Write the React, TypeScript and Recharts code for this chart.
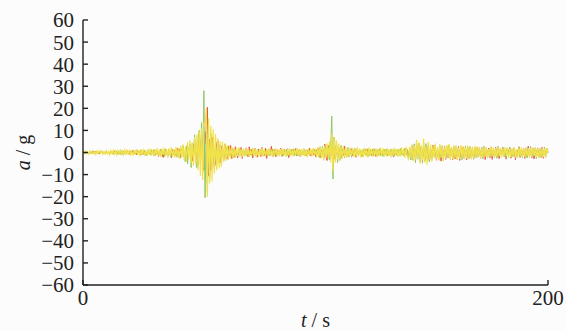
import { LineChart, Line, XAxis, YAxis, Label } from "recharts";

// sampled every 0.5 s, t = 0..200 (20 samples per row = 10 s)
const redSeries = [
  0.2, -0.4, 0.5, -0.1, 0.3, -0.5, 0.1, 0.4, -0.3, 0.6, -0.2, -0.5, 0.4, 0.1, -0.6, 0.3, 0.5, -0.4, 0.2, -0.3,
  0.6, -0.5, 0.2, -0.7, 0.4, 0.1, -0.5, 0.8, -0.3, 0.5, -0.8, 0.2, 0.6, -0.4, -0.7, 0.5, 0.3, -0.6, 0.9, -0.2,
  -0.8, 0.6, -0.3, 1.0, -0.7, 0.2, -1.1, 0.8, 0.4, -0.9, 1.2, -0.5, -0.8, 1.0, 0.3, -1.3, 0.7, -0.4, 1.1, -0.9,
  0.5, -1.4, 1.2, -0.6, 0.9, -1.8, 0.4, 1.3, -1.0, -2.2, 0.8, 1.5, -0.7, -1.6, 1.1, 0.6, -2.4, 1.4, -0.9, 1.0,
  -1.5, 2.0, -0.8, 1.6, -2.3, 0.9, 2.5, -1.9, -1.2, 3.0, -2.7, 1.4, 3.6, -2.2, -3.8, 2.8, 4.5, -3.6, 1.8, -5.8,
  5.5, -2.5, 7.8, -6.5, -8.0, 9.5, 4.0, 20.5, -10.5, 6.0, -8.0, 7.0, 3.5, -6.5, -5.0, 4.2, 5.5, -3.8, -4.6, 3.0,
  2.4, -3.6, 3.8, -1.9, -3.0, 2.9, -1.2, 3.2, -2.8, 1.5, -2.2, 2.6, 0.8, -2.5, 1.8, -1.0, 2.3, -2.7, 1.2, -1.6,
  2.1, -0.7, -1.9, 2.6, -1.1, 1.4, -2.5, 0.9, 1.8, -1.4, -2.1, 1.6, 0.6, -1.8, 2.3, -0.8, -1.3, 1.9, -2.7, 0.7,
  1.2, -1.6, 2.8, -0.5, -1.2, 1.4, -1.9, 0.6, 1.1, -1.4, 2.0, -0.8, -1.6, 1.3, 0.4, -1.1, 1.7, -2.3, 0.9, -0.6,
  1.5, -1.2, -0.9, 1.8, -1.6, 0.7, 1.3, -2.0, 0.5, -1.0, 1.6, -0.4, -1.4, 1.0, -0.7, 1.9, -1.6, 0.6, -1.1, 1.3,
  -1.8, 1.2, -0.6, 2.1, -2.4, 1.0, 1.5, -2.9, 3.8, -1.6, -3.6, 3.2, 1.8, -2.5, 3.1, -1.4, -3.0, 2.6, 1.1, -1.7,
  2.2, -0.8, -2.4, 1.4, -1.3, 2.9, -0.6, -1.6, 1.2, -2.0, 0.5, 1.7, -1.4, 1.0, -0.6, -2.2, 1.8, -0.9, 1.1, -1.5,
  0.6, -1.9, 1.5, -0.8, -1.1, 1.6, -0.6, 0.9, -1.4, 1.1, -0.7, 1.6, -1.8, 0.5, -1.2, 1.4, -0.9, 0.7, -1.5, 1.2,
  -0.8, 1.4, -1.6, 0.6, 1.0, -1.3, 0.5, -1.9, 1.7, -0.7, 1.1, -1.2, 0.8, -1.6, 1.3, -0.5, -1.4, 1.9, -1.0, 0.6,
  -2.6, 1.9, -1.2, 3.0, -3.4, 1.5, -2.2, 3.6, -1.4, 2.4, -4.1, 2.0, -1.6, 3.2, -3.8, 1.2, -2.5, 2.8, -4.0, 1.7,
  -2.0, 3.3, -1.3, 2.6, -3.5, 1.1, -2.7, 2.2, -3.9, 1.4, -1.8, 2.9, -3.1, 0.9, -2.3, 3.0, -1.5, 2.4, -3.3, 1.6,
  -2.9, 1.3, -2.1, 2.7, -3.6, 1.0, -1.9, 2.5, -2.8, 1.5, -3.4, 2.0, -1.2, 2.6, -2.5, 1.1, -3.0, 2.1, -1.7, 2.4,
  -1.4, 2.2, -2.6, 0.9, -1.8, 2.7, -3.2, 1.2, -1.0, 2.0, -2.4, 1.5, -3.1, 0.8, -1.6, 2.3, -2.1, 1.1, -2.8, 1.7,
  -1.3, 2.5, -2.0, 0.7, -3.0, 1.9, -1.1, 2.4, -2.6, 1.0, -1.7, 2.2, -3.3, 1.4, -0.9, 2.6, -2.2, 1.2, -1.5, 2.0,
  -2.7, 1.1, -1.9, 2.8, -1.2, 0.6, -2.4, 1.8, -2.9, 1.3, -1.0, 2.1, -2.3, 0.9, -1.8, 2.5, -2.6, 1.4, -1.2, 1.9,
  0.4,
];

const greenSeries = [
  -0.2, 0.3, -0.5, 0.1, 0.4, -0.3, 0.2, -0.6, 0.5, -0.1, -0.4, 0.6, 0.2, -0.5, 0.3, -0.2, 0.7, -0.4, 0.1, -0.6,
  0.5, -0.3, 0.6, -0.7, 0.2, 0.4, -0.8, 0.5, -0.2, 0.7, -0.6, 0.3, -0.9, 0.8, 0.1, -0.5, 0.6, -0.8, 0.4, -0.3,
  0.9, -0.6, 0.3, -1.0, 0.8, -0.4, 1.1, -0.9, 0.2, 0.7, -1.2, 0.6, -0.5, 1.0, -1.3, 0.4, 0.9, -0.7, -1.1, 1.2,
  -0.6, 1.3, -1.5, 0.5, 1.0, -1.2, -0.4, 1.6, -1.1, 0.8, -1.8, 1.2, 0.3, -1.4, 1.5, -0.9, -1.9, 1.0, 0.6, -1.3,
  1.7, -2.2, 0.9, -2.8, 2.6, -1.4, 3.2, -1.0, -4.2, 2.8, -5.2, 2.0, 3.5, -6.8, 4.2, -3.0, 8.0, -3.5, -7.0, 6.0,
  10.0, -5.0, 13.5, -9.0, 28.0, -20.5, 12.0, -18.0, 6.5, -11.5, 8.5, -5.0, 6.5, -7.0, 2.5, -5.2, 4.4, -2.2, 3.6, -4.1,
  1.5, -3.2, 2.9, -1.4, 2.5, -2.8, 0.9, -2.2, 2.0, -1.1, 1.8, -2.3, 0.8, -1.7, 1.9, -0.6, 1.2, -1.8, 1.6, -0.9,
  1.1, -1.5, 0.6, -1.9, 1.4, -0.8, 1.7, -1.2, 0.5, -1.6, 1.3, -1.0, 1.6, -0.7, 1.9, -1.4, 0.9, -1.2, 1.5, -0.6,
  -1.3, 1.2, -0.8, 1.6, -1.7, 0.4, 1.1, -1.5, 0.7, -1.0, 1.4, -1.8, 0.5, 1.2, -0.9, 1.5, -1.3, 0.6, -1.1, 1.3,
  -0.7, 1.6, -1.4, 0.8, -1.2, 1.0, -1.6, 0.5, 1.4, -1.1, 0.7, -1.5, 1.2, -0.6, 1.7, -1.3, 0.9, -1.0, 1.5, -0.8,
  1.6, -0.7, 1.9, -1.9, 0.9, -2.4, 2.8, -1.2, -2.0, 3.0, -1.4, 2.2, -3.2, 1.5, 16.5, -12.0, 7.0, -3.0, 5.2, -4.6,
  2.0, -3.4, 3.2, -1.5, 2.6, -2.4, 1.2, -1.9, 2.2, -1.0, 1.6, -2.1, 0.8, -1.4, 1.9, -1.2, 0.7, -1.7, 1.3, -0.9,
  -1.9, 1.4, -0.7, 1.6, -1.3, 0.5, -1.7, 1.3, -0.8, 1.5, -1.6, 0.6, -1.2, 1.4, -0.9, 1.7, -1.4, 0.7, -1.8, 1.5,
  -1.0, 1.3, -1.5, 0.8, -1.2, 1.6, -0.6, 1.1, -1.7, 0.9, -1.3, 1.5, -0.8, 1.8, -1.1, 0.7, -1.6, 1.2, -0.9, 1.4,
  -2.8, 1.5, -3.4, 2.6, -1.8, 3.9, -4.6, 2.2, -3.0, 4.3, -1.9, 3.0, -4.8, 1.7, -3.3, 4.0, -2.4, 2.6, -4.2, 1.9,
  -3.5, 2.2, -1.6, 3.4, -2.8, 1.5, -3.2, 2.9, -1.9, 3.1, -3.6, 1.2, -2.5, 2.7, -1.4, 3.3, -2.9, 1.8, -2.2, 2.8,
  -1.8, 2.9, -3.0, 1.4, -2.3, 2.6, -3.3, 1.6, -2.0, 3.0, -1.5, 2.3, -2.8, 1.9, -1.6, 2.5, -2.7, 1.3, -2.4, 2.0,
  -2.2, 1.5, -1.7, 2.4, -2.9, 1.1, -1.4, 2.2, -2.5, 0.8, -1.9, 2.6, -1.2, 1.7, -2.3, 1.0, -2.6, 2.9, -1.5, 1.3,
  -1.6, 2.3, -2.0, 1.2, -2.7, 1.8, -1.1, 2.5, -2.2, 0.9, -1.8, 2.0, -2.6, 1.4, -1.3, 2.4, -1.9, 1.1, -2.4, 1.6,
  -1.4, 2.1, -2.5, 1.3, -1.7, 2.7, -2.1, 0.8, -1.5, 2.2, -2.8, 1.5, -1.0, 1.9, -2.3, 1.2, -1.6, 2.4, -2.0, 1.4,
  -0.3,
];

const yellowSeries = [
  0.5, -0.4, 0.7, -0.6, 0.3, -0.8, 0.6, -0.2, 0.8, -0.7, 0.4, -0.9, 0.7, -0.5, 0.9, -0.3, 0.6, -0.8, 0.5, -0.6,
  0.8, -0.7, 0.4, -1.0, 0.9, -0.5, 1.0, -0.8, 0.6, -1.1, 0.9, -0.4, 1.1, -0.9, 0.7, -1.0, 1.2, -0.6, 0.8, -1.1,
  1.3, -1.0, 0.6, -1.4, 1.2, -0.8, 1.5, -1.2, 0.9, -1.6, 1.4, -1.1, 1.7, -1.3, 0.8, -1.5, 1.6, -1.0, 1.8, -1.4,
  1.1, -1.8, 1.6, -1.2, 2.0, -1.5, 1.3, -2.1, 1.8, -1.0, 2.2, -1.7, 1.4, -2.3, 1.9, -1.3, 2.4, -2.0, 1.6, -2.2,
  2.6, -1.8, 2.0, -2.9, 3.0, -2.2, 3.6, -3.4, 2.4, -4.2, 4.6, -3.0, 5.5, -4.8, 4.5, -6.0, 7.0, -5.2, 8.2, -8.0,
  9.5, -10.5, 11.0, -12.5, 13.5, 12.0, 20.0, -20.0, 15.5, -14.0, 12.0, -13.0, 10.5, -9.5, 8.5, -8.0, 6.5, -7.2, 5.0, -6.5,
  5.0, -4.2, 4.2, -3.8, 3.4, -3.4, 3.1, -2.6, 2.8, -2.6, 1.9, -2.4, 2.2, -1.5, 2.3, -2.0, 1.7, -2.1, 1.4, -1.8,
  2.0, -1.2, 1.9, -2.0, 1.3, -1.7, 2.1, -1.4, 1.8, -2.2, 1.2, -1.9, 1.6, -1.3, 2.0, -1.8, 1.5, -2.0, 1.7, -1.4,
  1.9, -1.6, 1.3, -2.1, 1.7, -1.2, 2.0, -1.5, 1.4, -1.9, 1.6, -1.1, 1.8, -1.7, 1.2, -2.0, 1.5, -1.3, 1.9, -1.6,
  1.4, -1.8, 1.7, -1.2, 2.0, -1.5, 1.3, -1.9, 1.6, -1.4, 1.9, -1.7, 1.2, -2.0, 1.8, -1.3, 1.5, -1.8, 2.1, -1.5,
  1.7, -2.3, 2.4, -1.8, 3.0, -2.6, 2.2, -3.6, 3.2, -2.4, 4.0, -3.0, 5.0, -4.5, 8.5, -8.5, 7.0, -4.5, 5.5, -3.2,
  4.0, -3.8, 2.5, -3.0, 2.9, -2.0, 2.6, -2.2, 1.6, -2.0, 2.2, -1.4, 2.0, -2.1, 1.5, -1.9, 2.3, -1.6, 1.8, -2.2,
  1.4, -2.0, 2.1, -1.7, 1.9, -2.3, 2.2, -1.5, 1.6, -1.9, 2.0, -1.3, 1.8, -2.1, 1.5, -1.7, 2.2, -1.4, 1.9, -2.0,
  1.6, -1.8, 2.0, -1.5, 1.3, -2.2, 1.8, -1.6, 2.1, -1.3, 1.7, -2.0, 1.5, -1.9, 2.3, -1.4, 1.8, -2.4, 2.6, -2.0,
  -3.0, 2.6, -2.2, 3.8, -4.0, 2.9, -3.2, 5.8, -2.8, 4.5, -5.0, 3.2, -3.6, 6.3, -4.6, 2.8, -5.5, 4.8, -3.1, 3.6,
  -4.2, 3.0, -2.6, 4.1, -3.3, 2.4, -3.6, 3.8, -2.5, 3.2, -3.9, 2.6, -2.8, 3.5, -2.2, 3.9, -3.4, 2.5, -3.0, 3.3,
  -2.6, 3.1, -3.4, 2.2, -2.9, 3.4, -2.5, 2.8, -3.2, 2.4, -2.7, 3.2, -2.3, 2.9, -3.1, 2.2, -2.6, 3.0, -2.4, 2.7,
  -2.0, 2.4, -2.6, 1.8, -2.2, 2.7, -1.9, 2.3, -2.5, 1.6, -2.1, 2.6, -1.8, 2.2, -2.4, 1.9, -2.0, 2.5, -1.7, 2.1,
  -2.3, 1.8, -2.0, 2.4, -1.6, 2.2, -2.5, 1.7, -2.1, 2.0, -1.9, 2.5, -2.2, 1.6, -2.4, 2.1, -1.8, 2.3, -2.0, 1.9,
  -2.1, 2.2, -1.7, 2.0, -2.4, 1.8, -2.0, 2.3, -1.6, 2.1, -2.2, 1.9, -2.5, 1.7, -1.9, 2.2, -2.1, 1.8, -2.3, 2.0,
  0.2,
];

const yTicks = [-60, -50, -40, -30, -20, -10, 0, 10, 20, 30, 40, 50, 60];
const xTicks = [0, 200];

const data = redSeries.map((r, i) => ({
  t: i * 0.5,
  red: r,
  green: greenSeries[i],
  yellow: yellowSeries[i],
}));

const FONT = "Liberation Serif, Times New Roman, Times, serif";
const AXIS = "#222";

const fmt = (v: number) => (v < 0 ? "\u2212" + Math.abs(v) : String(v));

function YTitle({ viewBox }: any) {
  const cx = viewBox.x + 15;
  const cy = viewBox.y + viewBox.height / 2;
  return (
    <text
      x={cx}
      y={cy}
      transform={`rotate(-90 ${cx} ${cy})`}
      textAnchor="middle"
      dominantBaseline="central"
      style={{ fontFamily: FONT, fontSize: 20 }}
      fill="#222"
    >
      <tspan fontStyle="italic">a</tspan> / g
    </text>
  );
}

function XTitle({ viewBox }: any) {
  const cx = viewBox.x + viewBox.width / 2;
  return (
    <text x={cx} y={viewBox.y + 42} textAnchor="middle" style={{ fontFamily: FONT, fontSize: 20 }} fill="#222">
      <tspan fontStyle="italic">t</tspan> / s
    </text>
  );
}

export default function App() {
  return (
    <div
      style={{
        position: "absolute",
        left: 0,
        top: 0,
        width: 566,
        height: 331,
        background: "#fcfcfc",
        fontFamily: FONT,
      }}
    >
      <LineChart
        width={566}
        height={331}
        data={data}
        margin={{ top: 20, right: 18, bottom: 0, left: 8 }}
        style={{ fontFamily: FONT }}
      >
        <XAxis
          dataKey="t"
          type="number"
          domain={[0, 200]}
          ticks={xTicks}
          interval={0}
          height={46}
          tickSize={-5}
          tickMargin={10}
          axisLine={{ stroke: AXIS, strokeWidth: 1.4 }}
          tickLine={{ stroke: AXIS, strokeWidth: 1.4 }}
          tick={{ fill: "#222", fontSize: 21, style: { fontFamily: FONT } }}
        >
          <Label content={<XTitle />} />
        </XAxis>
        <YAxis
          type="number"
          domain={[-60, 60]}
          ticks={yTicks}
          interval={0}
          width={75}
          tickSize={-5}
          tickMargin={14}
          tickFormatter={fmt}
          axisLine={{ stroke: AXIS, strokeWidth: 1.4 }}
          tickLine={{ stroke: AXIS, strokeWidth: 1.4 }}
          tick={{ fill: "#222", fontSize: 21, style: { fontFamily: FONT } }}
        >
          <Label content={<YTitle />} />
        </YAxis>
        <Line dataKey="red" stroke="#e8504f" strokeWidth={1} dot={false} isAnimationActive={false} />
        <Line dataKey="green" stroke="#93c763" strokeWidth={1} dot={false} isAnimationActive={false} />
        <Line dataKey="yellow" stroke="#f2e24a" strokeWidth={1.2} dot={false} isAnimationActive={false} />
      </LineChart>
    </div>
  );
}
